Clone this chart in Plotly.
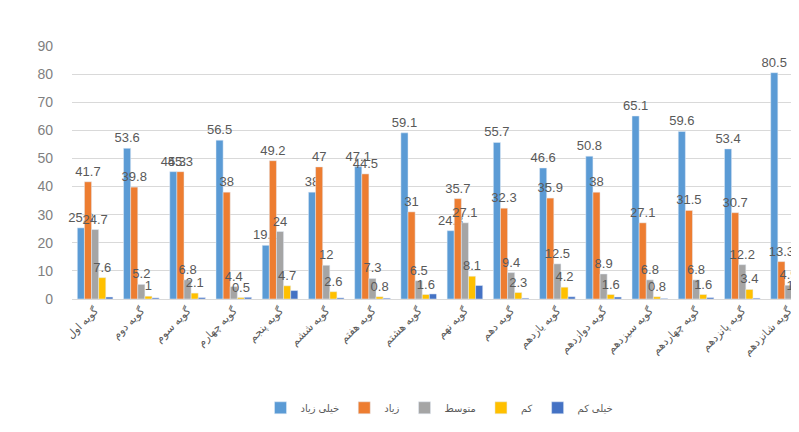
import plotly.graph_objects as go

categories = ["گویه اول", "گویه دوم", "گویه سوم", "گویه چهارم", "گویه پنجم", "گویه ششم",
              "گویه هفتم", "گویه هشتم", "گویه نهم", "گویه دهم", "گویه یازدهم", "گویه دوازدهم",
              "گویه سیزدهم", "گویه چهاردهم", "گویه پانزدهم", "گویه شانزدهم"]

very_high = [25.3, 53.6, 45.3, 56.5, 19.1, 38, 47.1, 59.1, 24.3, 55.7, 46.6, 50.8, 65.1, 59.6, 53.4, 80.5]
high      = [41.7, 39.8, 45.3, 38, 49.2, 47, 44.5, 31, 35.7, 32.3, 35.9, 38, 27.1, 31.5, 30.7, 13.3]
medium    = [24.7, 5.2, 6.8, 4.4, 24, 12, 7.3, 6.5, 27.1, 9.4, 12.5, 8.9, 6.8, 6.8, 12.2, 4.9]
low       = [7.6, 1, 2.1, 0.5, 4.7, 2.6, 0.8, 1.6, 8.1, 2.3, 4.2, 1.6, 0.8, 1.6, 3.4, 1.1]
very_low  = [0.7, 0.4, 0.5, 0.6, 3, 0.4, 0.3, 1.8, 4.8, 0.3, 0.8, 0.7, 0.2, 0.5, 0.3, 0.2]

series_names = ["خیلی زیاد", "زیاد", "متوسط", "کم", "خیلی کم"]
series_values = [very_high, high, medium, low, very_low]
colors = ["#5B9BD5", "#ED7D31", "#A5A5A5", "#FFC000", "#4472C4"]
show_labels = [True, True, True, True, False]

fig = go.Figure()
for name, vals, col, lab in zip(series_names, series_values, colors, show_labels):
    fig.add_trace(go.Bar(
        x=categories, y=vals, name=name, marker_color=col,
        text=[f"{v:g}" for v in vals] if lab else None,
        textposition="outside" if lab else "none",
        textfont=dict(size=13, color="#595959"),
        cliponaxis=False,
    ))

fig.update_layout(
    width=799, height=432,
    barmode="group", bargap=0.23, bargroupgap=0,
    plot_bgcolor="white", paper_bgcolor="white",
    margin=dict(l=64, r=0, t=38, b=141),
    font=dict(family="Liberation Sans, DejaVu Sans, sans-serif", color="#595959", size=13),
    uniformtext=dict(mode="show", minsize=13),
    showlegend=True,
    legend=dict(orientation="h", x=0.5, xanchor="center", y=-0.43, yanchor="middle",
                font=dict(size=10, color="#595959"), traceorder="normal", itemwidth=30),
)
fig.update_yaxes(range=[0, 90], dtick=10, showgrid=True, gridcolor="#D9D9D9", gridwidth=1,
                 zeroline=False, showline=False, tickfont=dict(size=14, color="#7F7F7F"),
                 ticklabelstandoff=18)
fig.update_xaxes(range=[-0.5, 15.4], tickangle=-45, showline=True, linecolor="#D9D9D9",
                 tickfont=dict(size=11, color="#595959"))

fig.write_html("out.html")
